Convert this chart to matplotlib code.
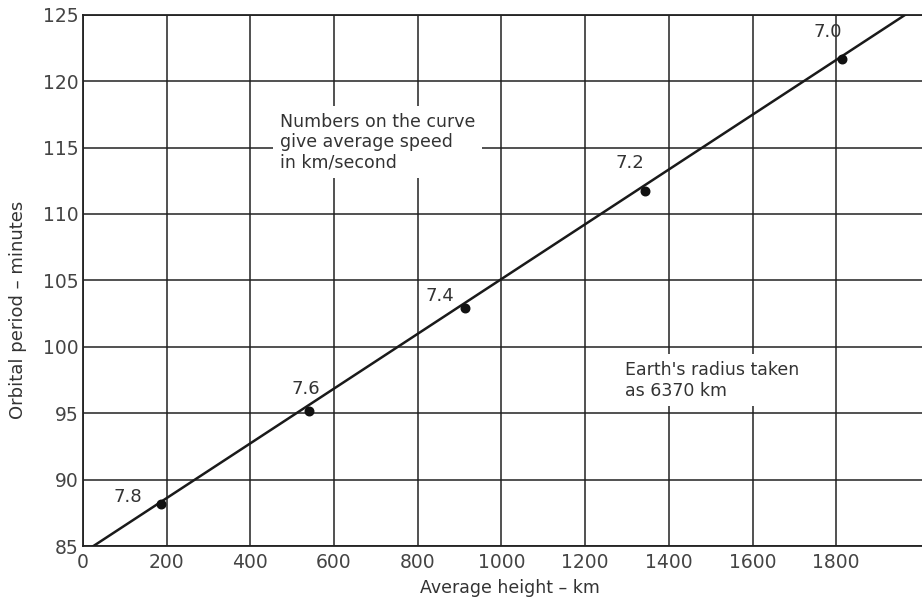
import numpy as np
import matplotlib.pyplot as plt

# data
speed_labels = ["7.8", "7.6", "7.4", "7.2", "7.0"]
height_km = [187, 540, 912, 1342, 1815]
period_min = [88.2, 95.2, 102.9, 111.7, 121.7]

line_height = [25, 1965]
line_period = [85.0, 125.0]

x_ticks = [0, 200, 400, 600, 800, 1000, 1200, 1400, 1600, 1800]
y_ticks = [85, 90, 95, 100, 105, 110, 115, 120, 125]

plt.rcParams["font.family"] = ["DejaVu Sans"]

fig = plt.figure(figsize=(9.22, 6.03), dpi=100)
ax = fig.add_axes([0.090, 0.0945, 0.910, 0.881])

ax.set_xlim(0, 2005)
ax.set_ylim(85, 125)
ax.set_xticks(x_ticks)
ax.set_yticks(y_ticks)
ax.grid(True, color="#222222", linewidth=1.1)
ax.set_axisbelow(True)

for s in ["left", "bottom", "top"]:
    ax.spines[s].set_color("#222222")
    ax.spines[s].set_linewidth(1.3)
ax.spines["right"].set_visible(False)

ax.tick_params(axis="both", length=0, labelsize=13.5, labelcolor="#444444")
ax.tick_params(axis="x", pad=5)
ax.tick_params(axis="y", pad=3)

ax.plot(line_height, line_period, color="#1a1a1a", linewidth=1.8, zorder=3)
ax.scatter(height_km, period_min, s=38, color="#111111", zorder=4)

# speed labels, offset from each point (pixels)
offsets = [(-33, 7), (-3, 22), (-25, 12), (-15, 28), (-15, 27)]
for lab, hx, py, off in zip(speed_labels, height_km, period_min, offsets):
    ax.annotate(lab, (hx, py), xytext=off, textcoords="offset pixels",
                ha="center", va="center", fontsize=13, color="#333333", zorder=5)

box = dict(facecolor="white", edgecolor="none", pad=5)
ax.text(470, 117.6, "Numbers on the curve\ngive average speed\nin km/second",
        fontsize=12.5, color="#333333", ha="left", va="top", linespacing=1.15,
        bbox=box, zorder=2)
ax.text(1295, 98.9, "Earth's radius taken\nas 6370 km",
        fontsize=12.5, color="#333333", ha="left", va="top", linespacing=1.15,
        bbox=box, zorder=2)

ax.set_xlabel("Average height \u2013 km", fontsize=12.5, color="#333333")
ax.xaxis.set_label_coords(0.509, -0.063)
ax.set_ylabel("Orbital period \u2013 minutes", fontsize=13, color="#333333")
ax.yaxis.set_label_coords(-0.067, 0.444)

fig.savefig("out.png", dpi=100)
